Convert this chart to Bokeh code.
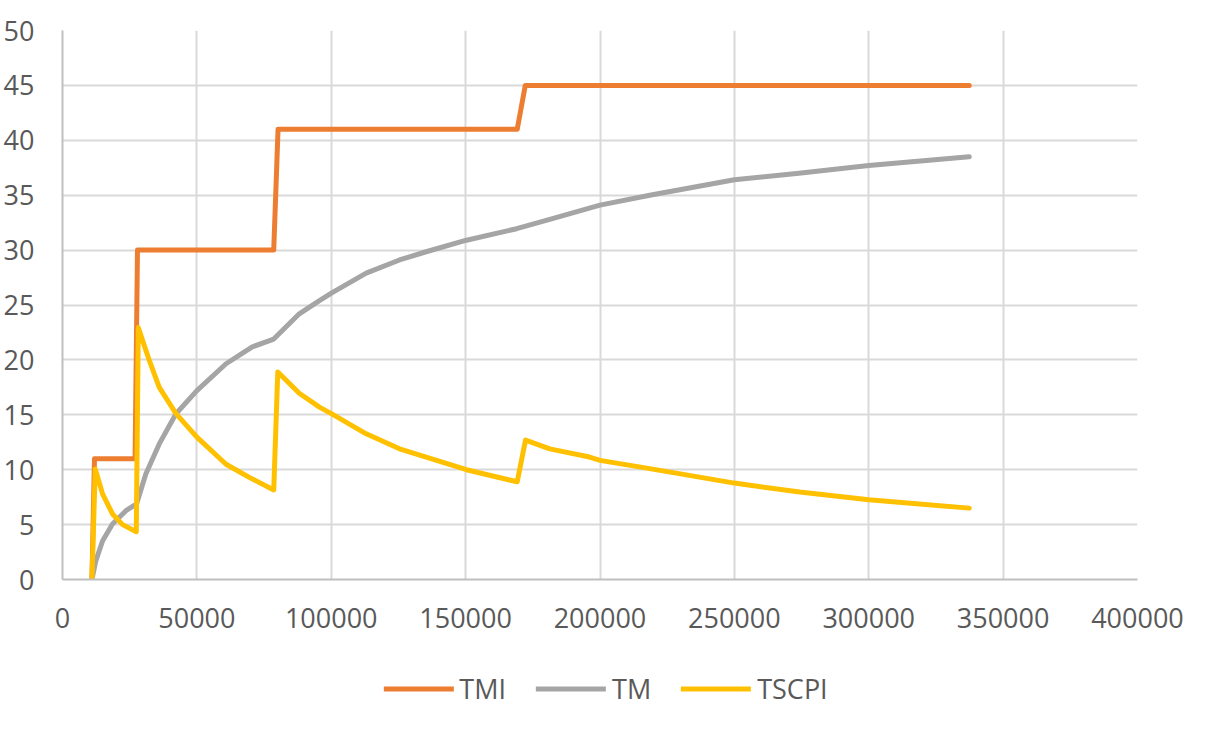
from bokeh.plotting import figure
from bokeh.layouts import column
from bokeh.models import Legend, LegendItem, FixedTicker, BasicTickFormatter, Range1d
from bokeh.embed import file_html
from bokeh.resources import INLINE

# Data
tmi_x = [10950, 11900, 27000, 27900, 78600, 80200, 169200, 172200, 337400]
tmi_y = [0, 11, 11, 30, 30, 41, 41, 45, 45]

tm_x = [10950, 12400, 14900, 18600, 23600, 27560, 31000, 36000, 42230, 50000,
        60850, 70760, 78600, 88100, 95600, 100200, 113000, 125400, 135300, 150300,
        169000, 181300, 200000, 218500, 250000, 274000, 300000, 337400]
tm_y = [0, 1.7, 3.5, 5.05, 6.27, 6.88, 9.6, 12.35, 15.1, 17.2,
        19.65, 21.2, 21.9, 24.2, 25.4, 26.1, 27.9, 29.1, 29.85, 30.9,
        31.95, 32.8, 34.1, 35.0, 36.4, 37.0, 37.7, 38.5]

tscpi_x = [10950, 12180, 14900, 18600, 22340, 27450, 28200, 32300, 36000, 42230,
           50000, 60850, 69500, 78600, 80100, 88100, 95600, 100200, 113000, 125400,
           135300, 150300, 169200, 172300, 181300, 196100, 200000, 218500, 250000,
           274300, 300000, 337400]
tscpi_y = [0, 10.07, 7.8, 5.97, 5.0, 4.35, 22.94, 19.95, 17.5, 15.1,
           12.96, 10.5, 9.3, 8.16, 18.9, 16.96, 15.7, 15.08, 13.27, 11.9,
           11.15, 10.0, 8.9, 12.7, 11.9, 11.15, 10.85, 10.1, 8.78,
           7.96, 7.27, 6.5]

series_names = ["TMI", "TM", "TSCPI"]
series_colors = ["#ED7D31", "#A5A5A5", "#FFC000"]

x_ticks = [0, 50000, 100000, 150000, 200000, 250000, 300000, 350000, 400000]
y_ticks = [0, 5, 10, 15, 20, 25, 30, 35, 40, 45, 50]

FONT = "Open Sans"
TXT = "#595959"
LW = 5

xs_all = [tmi_x, tm_x, tscpi_x]
ys_all = [tmi_y, tm_y, tscpi_y]

p = figure(width=1200, height=660, output_backend="svg", toolbar_location=None,
           x_range=Range1d(0, 400000), y_range=Range1d(0, 50))
p.min_border_left = 55
p.min_border_right = 63
p.min_border_top = 30
p.min_border_bottom = 81
p.outline_line_color = None
p.background_fill_color = "white"
p.border_fill_color = "white"

for xs, ys, c in zip(xs_all, ys_all, series_colors):
    p.line(xs, ys, line_color=c, line_width=LW, line_join="round", line_cap="round")

for ax in (p.xaxis[0], p.yaxis[0]):
    ax.axis_line_color = "#BFBFBF"
    ax.axis_line_width = 2
    ax.major_tick_line_color = None
    ax.minor_tick_line_color = None
    ax.major_label_text_font = FONT
    ax.major_label_text_font_size = "27px"
    ax.major_label_text_color = TXT

p.xaxis[0].ticker = FixedTicker(ticks=x_ticks)
p.yaxis[0].ticker = FixedTicker(ticks=y_ticks)
p.xaxis[0].formatter = BasicTickFormatter(use_scientific=False)
p.xaxis[0].major_label_standoff = 22
p.yaxis[0].major_label_standoff = 22

p.xgrid[0].ticker = FixedTicker(ticks=x_ticks)
p.ygrid[0].ticker = FixedTicker(ticks=y_ticks)
for g in (p.xgrid[0], p.ygrid[0]):
    g.grid_line_color = "#D9D9D9"
    g.grid_line_width = 2

# Legend strip below the chart (its series lie outside this strip's ranges, only the legend shows)
lg = figure(width=1212, height=56, output_backend="svg", toolbar_location=None,
            x_range=Range1d(0, 1), y_range=Range1d(0, 1),
            x_axis_type=None, y_axis_type=None)
lg.min_border_left = 0
lg.min_border_right = 0
lg.min_border_top = 0
lg.min_border_bottom = 0
lg.outline_line_color = None
lg.xgrid.visible = False
lg.ygrid.visible = False
items = []
for name, xs, ys, c in zip(series_names, xs_all, ys_all, series_colors):
    r = lg.line(xs, ys, line_color=c, line_width=LW, line_cap="round")
    items.append(LegendItem(label=name, renderers=[r]))

legend = Legend(items=items, orientation="horizontal", location="center")
legend.padding = 0
legend.margin = 0
legend.border_line_color = None
legend.background_fill_alpha = 0
legend.label_text_font = FONT
legend.label_text_font_size = "27px"
legend.label_text_color = TXT
legend.glyph_width = 70
legend.glyph_height = 20
legend.label_standoff = 6
legend.spacing = 30
lg.add_layout(legend, "center")

layout = column(p, lg, spacing=0)
open("out.html", "w").write(file_html(layout, INLINE))
